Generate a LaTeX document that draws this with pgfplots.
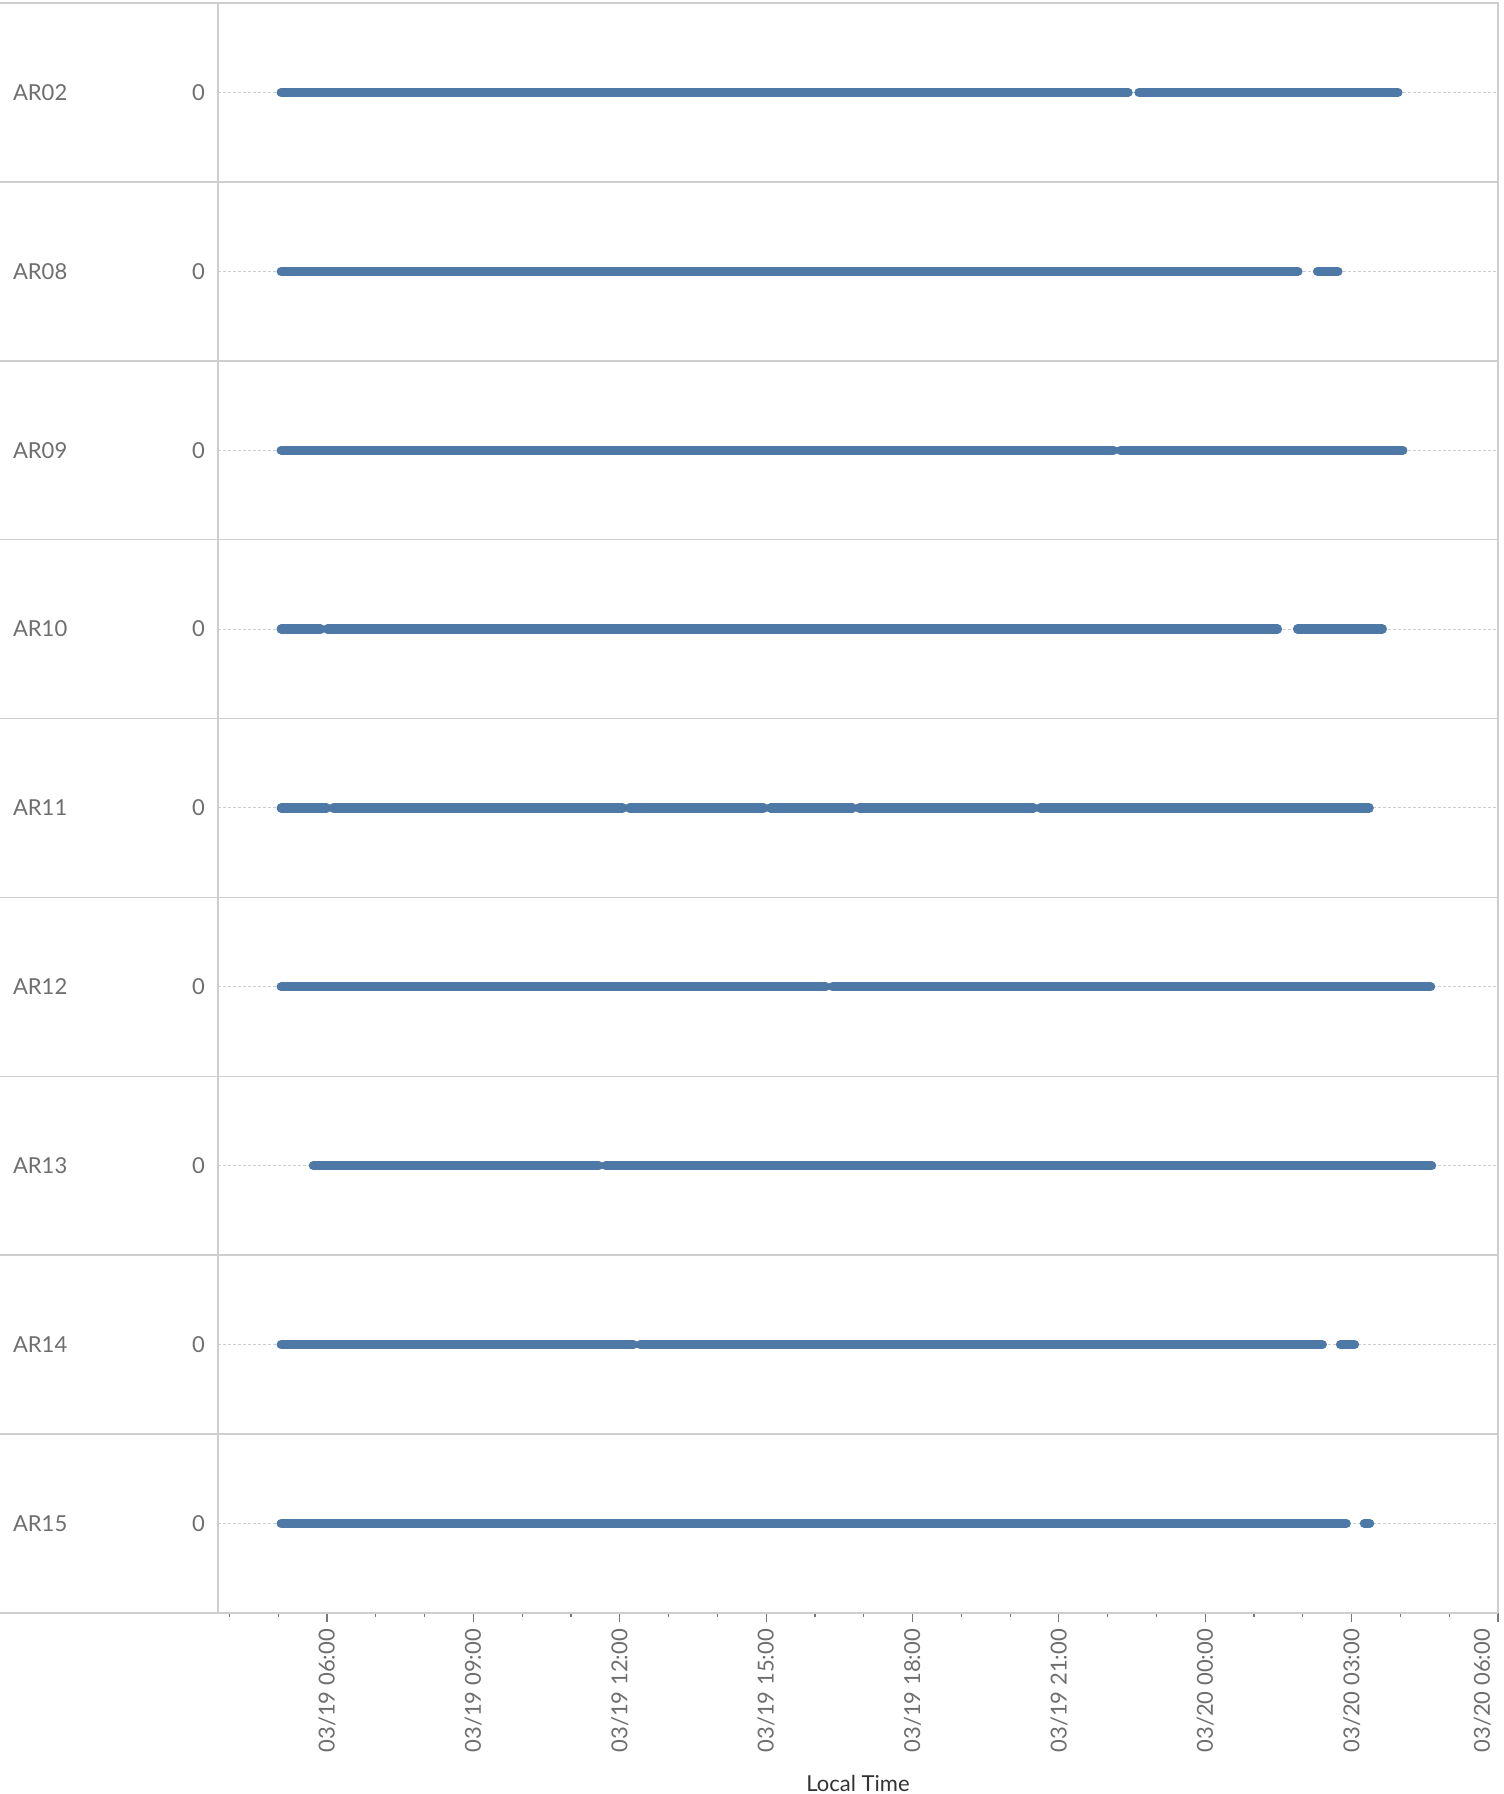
\documentclass[border=0pt]{standalone}
\usepackage{fontspec}
\setmainfont{Lato}
\usepackage{pgfplots}
\pgfplotsset{compat=1.18}
\definecolor{barblue}{RGB}{78,121,167}
\definecolor{framegray}{RGB}{206,206,206}
\definecolor{labelgray}{RGB}{110,110,110}
\definecolor{tickgray}{RGB}{120,120,120}
\newcommand{\rowname}[2]{\node[anchor=west, xshift=-106pt, text=labelgray, font=\fontsize{11}{13}\selectfont]
    at (axis cs:3.766,#2) {#1};}
\begin{document}
\begin{tikzpicture}
\begin{axis}[
  scale only axis, width=640pt, height=805pt,
  xmin=3.766, xmax=30, ymin=-8.5, ymax=0.5,
  clip=false,
  axis line style={framegray, line width=0.75pt},
  xtick={6,9,...,27},
  xticklabels={03/19 06:00,03/19 09:00,03/19 12:00,03/19 15:00,03/19 18:00,03/19 21:00,03/20 00:00,03/20 03:00},
  extra x ticks={30},
  extra x tick labels={03/20 06:00},
  extra x tick style={grid=none, xticklabel style={anchor=south east}},
  minor xtick={4,5,7,8,10,11,13,14,16,17,19,20,22,23,25,26,28,29},
  xtick pos=left, ytick pos=left, tick align=outside,
  major tick length=4.5pt, minor tick length=2pt,
  xtick style={tickgray, line width=0.6pt},
  minor tick style={tickgray, line width=0.6pt},
  xticklabel style={rotate=90, anchor=east, font=\fontsize{11}{13}\selectfont, text=labelgray},
  ytick={0,-1,-2,-3,-4,-5,-6,-7,-8},
  yticklabels={0,0,0,0,0,0,0,0,0},
  ytick style={draw=none},
  yticklabel style={font=\fontsize{11}{13}\selectfont, text=labelgray, xshift=1.5pt},
  ymajorgrids,
  grid style={framegray, dash pattern=on 1.5pt off 1pt, line width=0.5pt},
  xlabel={Local Time},
  xlabel style={at={(axis description cs:0.5,0)}, anchor=center, yshift=-85pt,
    font=\fontsize{11}{13}\selectfont, text=black!80},
  bar/.style={barblue, line width=4.6pt, line cap=round, forget plot},
]
% row separators, running across the label column
\pgfplotsinvokeforeach{0.5,-0.5,-1.5,-2.5,-3.5,-4.5,-5.5,-6.5,-7.5,-8.5}{
  \draw[framegray, line width=0.75pt] ([xshift=-109pt]axis cs:3.766,#1) -- (axis cs:30,#1);
}
% row names
\rowname{AR02}{0}
\rowname{AR08}{-1}
\rowname{AR09}{-2}
\rowname{AR10}{-3}
\rowname{AR11}{-4}
\rowname{AR12}{-5}
\rowname{AR13}{-6}
\rowname{AR14}{-7}
\rowname{AR15}{-8}
% AR02
\addplot[bar] coordinates {(5.06,0) (22.42,0)};
\addplot[bar] coordinates {(22.64,0) (27.95,0)};
% AR08
\addplot[bar] coordinates {(5.06,-1) (25.90,-1)};
\addplot[bar] coordinates {(26.30,-1) (26.72,-1)};
% AR09
\addplot[bar] coordinates {(5.06,-2) (22.12,-2)};
\addplot[bar] coordinates {(22.26,-2) (28.05,-2)};
% AR10
\addplot[bar] coordinates {(5.06,-3) (5.87,-3)};
\addplot[bar] coordinates {(6.01,-3) (25.48,-3)};
\addplot[bar] coordinates {(25.89,-3) (27.63,-3)};
% AR11
\addplot[bar] coordinates {(5.06,-4) (5.99,-4)};
\addplot[bar] coordinates {(6.13,-4) (12.06,-4)};
\addplot[bar] coordinates {(12.20,-4) (14.95,-4)};
\addplot[bar] coordinates {(15.09,-4) (16.77,-4)};
\addplot[bar] coordinates {(16.91,-4) (20.48,-4)};
\addplot[bar] coordinates {(20.62,-4) (27.36,-4)};
% AR12
\addplot[bar] coordinates {(5.06,-5) (16.22,-5)};
\addplot[bar] coordinates {(16.36,-5) (28.62,-5)};
% AR13
\addplot[bar] coordinates {(5.72,-6) (11.57,-6)};
\addplot[bar] coordinates {(11.71,-6) (28.64,-6)};
% AR14
\addplot[bar] coordinates {(5.06,-7) (12.28,-7)};
\addplot[bar] coordinates {(12.42,-7) (26.40,-7)};
\addplot[bar] coordinates {(26.77,-7) (27.06,-7)};
% AR15
\addplot[bar] coordinates {(5.06,-8) (26.89,-8)};
\addplot[bar] coordinates {(27.26,-8) (27.37,-8)};
\end{axis}
\pgfresetboundingbox
\path[use as bounding box] ([xshift=-109pt,yshift=-90.5pt]current axis.south west) rectangle ([xshift=2.5pt,yshift=1.5pt]current axis.north east);
\end{tikzpicture}
\end{document}
